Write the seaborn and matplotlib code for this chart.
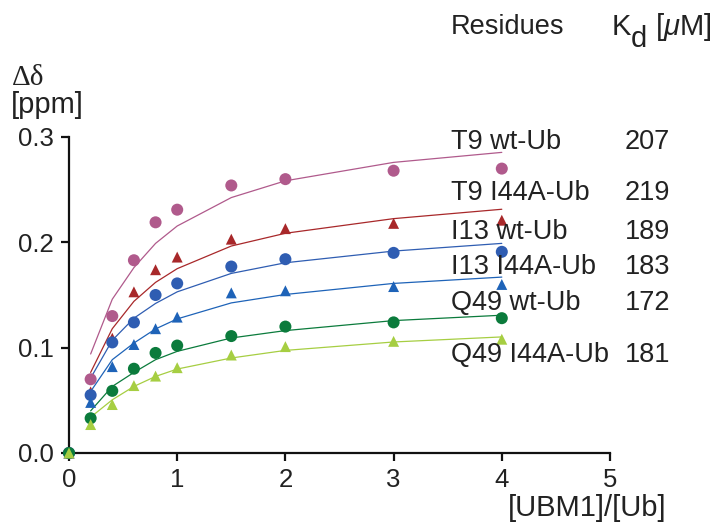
import matplotlib
matplotlib.use("Agg")
import matplotlib.pyplot as plt
import seaborn as sns
import pandas as pd

# ---- data ----
x_points = [0, 0.2, 0.4, 0.6, 0.8, 1.0, 1.5, 2, 3, 4]
x_fit = [0.2, 0.4, 0.6, 0.8, 1.0, 1.5, 2, 3, 4]

residues = ["T9 wt-Ub", "T9 I44A-Ub", "I13 wt-Ub", "I13 I44A-Ub", "Q49 wt-Ub", "Q49 I44A-Ub"]
kd_values = ["207", "219", "189", "183", "172", "181"]

t9_wt = [0, 0.070, 0.130, 0.183, 0.219, 0.231, 0.254, 0.260, 0.268, 0.270]
t9_i44a = [0, 0.058, 0.109, 0.153, 0.174, 0.186, 0.203, 0.213, 0.218, 0.221]
i13_wt = [0, 0.055, 0.105, 0.124, 0.150, 0.161, 0.177, 0.184, 0.190, 0.191]
i13_i44a = [0, 0.048, 0.082, 0.103, 0.118, 0.129, 0.152, 0.154, 0.158, 0.160]
q49_wt = [0, 0.033, 0.059, 0.080, 0.095, 0.102, 0.111, 0.120, 0.124, 0.128]
q49_i44a = [0, 0.027, 0.046, 0.064, 0.073, 0.081, 0.093, 0.101, 0.106, 0.108]

t9_wt_fit = [0.094, 0.146, 0.176, 0.199, 0.2155, 0.2425, 0.2584, 0.2759, 0.2854]
t9_i44a_fit = [0.0765, 0.118, 0.144, 0.162, 0.175, 0.1965, 0.2086, 0.2225, 0.2314]
i13_wt_fit = [0.0711, 0.107, 0.128, 0.142, 0.153, 0.1705, 0.1806, 0.1917, 0.199]
i13_i44a_fit = [0.0584, 0.0886, 0.1044, 0.1178, 0.1273, 0.1425, 0.1505, 0.161, 0.167]
q49_wt_fit = [0.040, 0.0632, 0.0765, 0.0886, 0.0965, 0.1092, 0.1162, 0.1257, 0.1308]
q49_i44a_fit = [0.034, 0.0505, 0.0632, 0.0727, 0.0797, 0.0902, 0.0974, 0.1054, 0.1102]

points = [t9_wt, t9_i44a, i13_wt, i13_i44a, q49_wt, q49_i44a]
fits = [t9_wt_fit, t9_i44a_fit, i13_wt_fit, i13_i44a_fit, q49_wt_fit, q49_i44a_fit]

colors = ["#B05A8C", "#A8282A", "#2F5DB2", "#1E63B8", "#0B7B3C", "#A6CE42"]
markers = ["o", "^", "o", "^", "o", "^"]

# label positions (pixel y centres in 723x528 canvas)
label_y = [142, 193, 232, 267, 303, 355]

# ---- build long tables ----
pts_df = pd.concat([pd.DataFrame({"x": x_points, "y": p, "series": r})
                    for p, r in zip(points, residues)], ignore_index=True)
fit_df = pd.concat([pd.DataFrame({"x": x_fit, "y": f, "series": r})
                    for f, r in zip(fits, residues)], ignore_index=True)

sns.set_theme(style="ticks")
plt.rcParams["font.family"] = ["Liberation Sans", "DejaVu Sans"]
plt.rcParams["mathtext.fontset"] = "custom"
plt.rcParams["mathtext.rm"] = "Liberation Sans"
plt.rcParams["mathtext.it"] = "Liberation Sans:italic"

W, H = 723, 528
fig = plt.figure(figsize=(W / 100, H / 100), dpi=100)
ax = fig.add_axes([69 / W, 1 - 453 / H, (610 - 69) / W, (453 - 137) / H])

palette = dict(zip(residues, colors))
mk = dict(zip(residues, markers))

sns.lineplot(data=fit_df, x="x", y="y", hue="series", palette=palette,
             hue_order=residues, linewidth=0.9, legend=False, ax=ax,
             estimator=None, sort=True)
for r in residues:
    sub = pts_df[pts_df["series"] == r]
    sns.scatterplot(data=sub, x="x", y="y", color=palette[r], marker=mk[r],
                    s=75 if mk[r] == "o" else 62, edgecolor="none",
                    legend=False, ax=ax, clip_on=False, zorder=3)

ax.set_xlim(0, 5)
ax.set_ylim(0, 0.3)
ax.set_xticks([0, 1, 2, 3, 4, 5])
ax.set_yticks([0.0, 0.1, 0.2, 0.3])
ax.set_xticklabels(["0", "1", "2", "3", "4", "5"])
ax.set_yticklabels(["0.0", "0.1", "0.2", "0.3"])
ax.set_xlabel("")
ax.set_ylabel("")
for s in ["top", "right"]:
    ax.spines[s].set_visible(False)
for s in ["left", "bottom"]:
    ax.spines[s].set_linewidth(1.6)
    ax.spines[s].set_color("#111111")
ax.tick_params(axis="both", direction="out", length=6, width=1.6,
               labelsize=18.5, colors="#111111", labelcolor="#222222", pad=5)
ax.set_facecolor("white")

txt = "#222222"
fs = 19.5
fs_big = 21


def fx(px):
    return px / W


def fy(py):
    return 1 - py / H


fig.text(fx(12), fy(78), "Δδ", fontsize=fs_big, color=txt, va="center", ha="left",
         family=["Liberation Serif", "DejaVu Serif"])
fig.text(fx(11), fy(105), "[ppm]", fontsize=fs_big, color=txt, va="center", ha="left")
fig.text(fx(666), fy(508), "[UBM1]/[Ub]", fontsize=fs_big, color=txt, va="center", ha="right")
fig.text(fx(451), fy(27), "Residues", fontsize=fs, color=txt, va="center", ha="left")
fig.text(fx(612), fy(27), "K", fontsize=fs_big, color=txt, va="center", ha="left")
fig.text(fx(631), fy(39), "d", fontsize=fs_big, color=txt, va="center", ha="left")
fig.text(fx(655), fy(27), r"[$\mu$M]", fontsize=fs_big, color=txt, va="center", ha="left")

for r, k, y in zip(residues, kd_values, label_y):
    fig.text(fx(451), fy(y), r, fontsize=fs, color=txt, va="center", ha="left")
    fig.text(fx(625), fy(y), k, fontsize=fs, color=txt, va="center", ha="left")

fig.savefig("out.png", dpi=100, facecolor="white")
